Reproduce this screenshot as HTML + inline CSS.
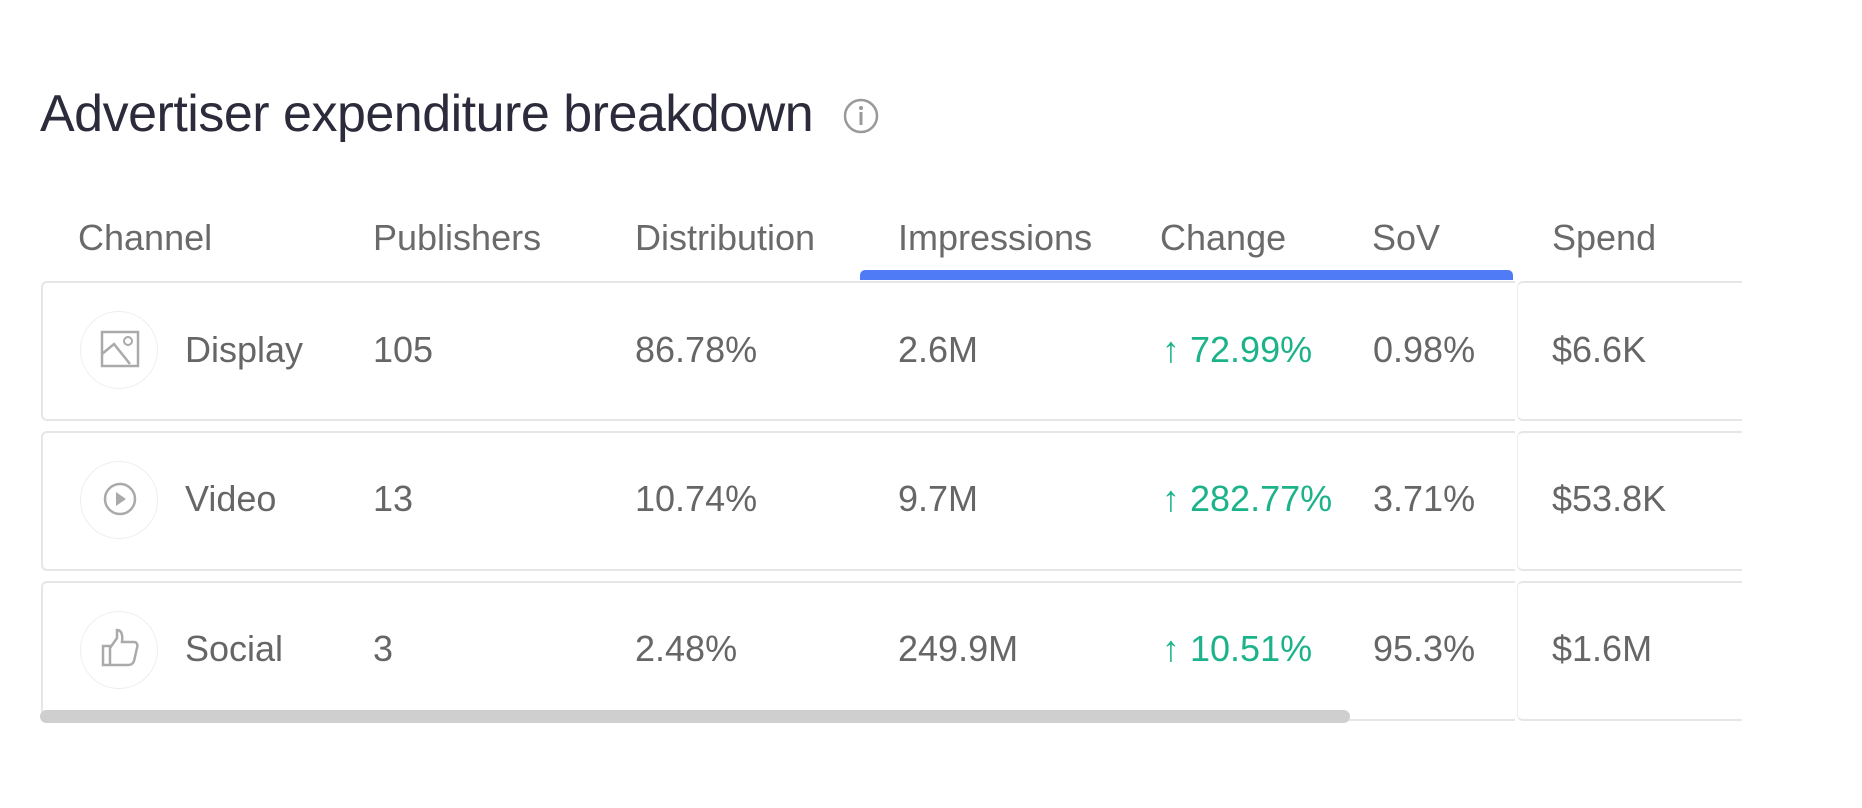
<!DOCTYPE html>
<html><head><style>
body{margin:0;width:1862px;height:808px;background:#fff;font-family:"Liberation Sans",sans-serif;position:relative;overflow:hidden}
.a{position:absolute;white-space:nowrap}
.t{left:40px;top:84px;font-size:52px;color:#2c2b3b;letter-spacing:-0.5px}
.h{top:217px;font-size:36px;color:#6a6a6a}
.row{position:absolute;left:41px;width:1472px;border:2px solid #e6e6e6;border-radius:6px;border-right:none;border-top-right-radius:0;border-bottom-right-radius:0}
.sp{position:absolute;left:1517px;width:224px;border-top:2px solid #e6e6e6;border-bottom:2px solid #e6e6e6;border-left:1px solid #eee;border-radius:6px 0 0 6px}
.c{font-size:36px;color:#666}
.g{color:#1db38a}
.ic{position:absolute;left:80px;width:76px;height:76px;border:1px solid #eee;border-radius:50%}
</style></head><body>
<div class="a t">Advertiser expenditure breakdown</div>
<svg class="a" style="left:843px;top:98px" width="36" height="36"><circle cx="18" cy="18" r="16" fill="none" stroke="#999" stroke-width="2.5"/><circle cx="18" cy="10" r="2" fill="#999"/><rect x="16.5" y="14" width="3" height="13" fill="#999"/></svg>
<div class="a h" style="left:78px">Channel</div>
<div class="a h" style="left:373px">Publishers</div>
<div class="a h" style="left:635px">Distribution</div>
<div class="a h" style="left:898px">Impressions</div>
<div class="a h" style="left:1160px">Change</div>
<div class="a h" style="left:1372px">SoV</div>
<div class="a h" style="left:1552px">Spend</div>
<div class="a" style="left:860px;top:270px;width:653px;height:10px;background:#4f7cf6;border-radius:5px 5px 0 0"></div>

<div class="row" style="top:281px;height:136px"></div>
<div class="sp" style="top:281px;height:136px"></div>
<div class="row" style="top:431px;height:136px"></div>
<div class="sp" style="top:431px;height:136px"></div>
<div class="row" style="top:581px;height:136px"></div>
<div class="sp" style="top:581px;height:136px"></div>

<div class="ic" style="top:311px"></div>
<svg class="a" style="left:100px;top:330px" width="40" height="38"><rect x="2" y="2" width="36" height="34" fill="none" stroke="#aaa" stroke-width="2.5"/><path d="M2 24 L14 14 L30 34" fill="none" stroke="#aaa" stroke-width="2.5"/><circle cx="28" cy="11" r="4" fill="none" stroke="#aaa" stroke-width="2"/></svg>
<div class="ic" style="top:461px"></div>
<svg class="a" style="left:103px;top:482px" width="34" height="34"><circle cx="17" cy="17" r="15" fill="none" stroke="#aaa" stroke-width="2.5"/><path d="M13 10 L23 17 L13 24Z" fill="#aaa"/></svg>
<div class="ic" style="top:611px"></div>
<svg class="a" style="left:100px;top:628px" width="40" height="40"><path d="M3 18 H10 V37 H3Z M10 20 L17 10 V2 C21 2 23 6 22 14 H34 C37 14 38 17 37 20 L34 33 C33 36 31 37 28 37 H10" fill="none" stroke="#aaa" stroke-width="2.5"/></svg>

<div class="a c" style="left:185px;top:329px">Display</div>
<div class="a c" style="left:373px;top:329px">105</div>
<div class="a c" style="left:635px;top:329px">86.78%</div>
<div class="a c" style="left:898px;top:329px">2.6M</div>
<div class="a c g" style="left:1162px;top:329px">↑ 72.99%</div>
<div class="a c" style="left:1373px;top:329px">0.98%</div>
<div class="a c" style="left:1552px;top:329px">$6.6K</div>

<div class="a c" style="left:185px;top:478px">Video</div>
<div class="a c" style="left:373px;top:478px">13</div>
<div class="a c" style="left:635px;top:478px">10.74%</div>
<div class="a c" style="left:898px;top:478px">9.7M</div>
<div class="a c g" style="left:1162px;top:478px">↑ 282.77%</div>
<div class="a c" style="left:1373px;top:478px">3.71%</div>
<div class="a c" style="left:1552px;top:478px">$53.8K</div>

<div class="a c" style="left:185px;top:628px">Social</div>
<div class="a c" style="left:373px;top:628px">3</div>
<div class="a c" style="left:635px;top:628px">2.48%</div>
<div class="a c" style="left:898px;top:628px">249.9M</div>
<div class="a c g" style="left:1162px;top:628px">↑ 10.51%</div>
<div class="a c" style="left:1373px;top:628px">95.3%</div>
<div class="a c" style="left:1552px;top:628px">$1.6M</div>

<div class="a" style="left:40px;top:710px;width:1310px;height:13px;background:#cfcfcf;border-radius:7px"></div>
</body></html>
